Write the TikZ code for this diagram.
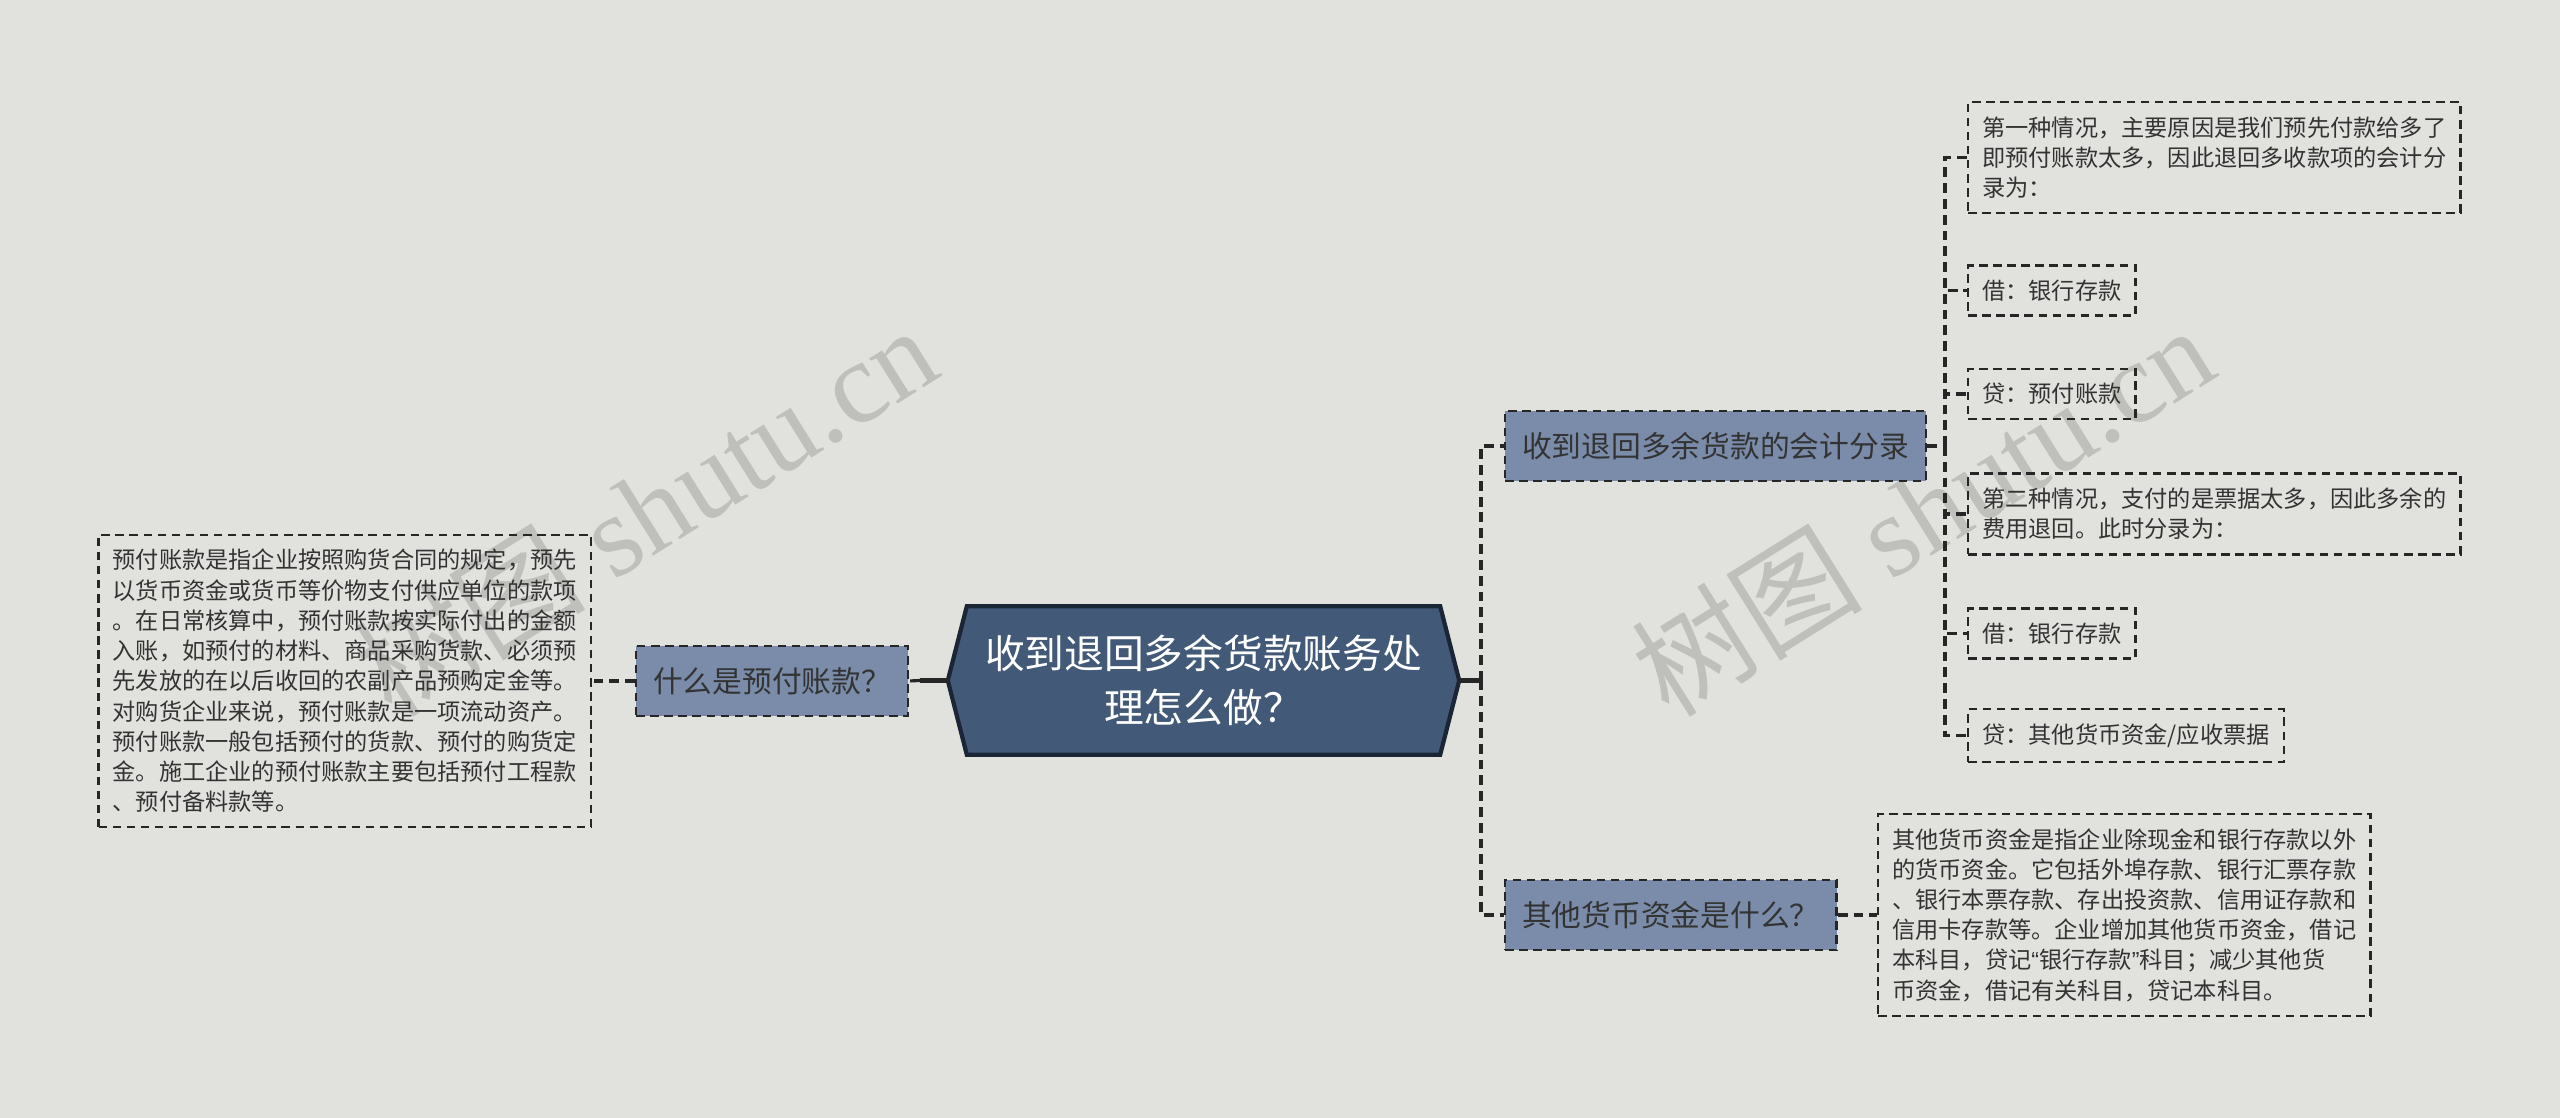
\documentclass[tikz,border=0pt]{standalone}
\usepackage{fontspec}
\setmainfont{Noto Sans CJK SC}
\newfontfamily\cjk{Noto Sans CJK SC}
\newfontfamily\wmfont{Liberation Serif}
\newfontfamily\latin{Liberation Sans}
\usetikzlibrary{backgrounds}
\definecolor{bgcol}{HTML}{E1E2DE}
\definecolor{rootfill}{HTML}{435978}
\definecolor{rootline}{HTML}{1A2535}
\definecolor{subfill}{HTML}{7A8CAA}
\definecolor{inkcol}{HTML}{333333}
\definecolor{markcol}{HTML}{BFC0BC}

\begin{document}
\begin{tikzpicture}[xscale = 1, yscale = 1,
	link/.style = {draw = black!85, line width = 0.9pt, dash pattern = on 2.8pt off 1.7pt},
	rootlink/.style = {draw = black!85, line width = 1.2pt},
	rootbox/.style = {text = white, font = \fontsize{11.3}{15.3}\selectfont, align = center, minimum width = 4.72cm, minimum height = 1.47cm, inner sep = 0pt},
	subbox/.style = {fill = subfill, draw = black!85, line width = 0.7pt, dash pattern = on 2.4pt off 1.6pt, text = inkcol, font = \fontsize{8.46}{10}\selectfont, minimum height = 0.7cm, inner xsep = 1.7mm, anchor = west},
	leafbox/.style = {draw = black!85, line width = 0.7pt, dash pattern = on 2.4pt off 1.6pt, text = inkcol, font = \fontsize{6.6}{8.6}\selectfont, align = left, inner xsep = 4pt, inner ysep = 4.1pt},
	wmark/.style = {text = markcol, font = \wmfont\fontsize{33}{33}\selectfont, rotate = 32}
]
	\useasboundingbox (0,0) rectangle (25.6,11.18);
	
	\node[rootbox] (root) at (12.035,4.375) {收到退回多余货款账务处\\理怎么做？};
	
	% left side
	\node[subbox] (what) at (6.35,4.37) {什么是预付账款？};
	\node[leafbox, anchor = east] (whatinfo) at (5.92,4.37) {预付账款是指企业按照购货合同的规定，预先\\以货币资金或货币等价物支付供应单位的款项\\。在日常核算中，预付账款按实际付出的金额\\入账，如预付的材料、商品采购货款、必须预\\先发放的在以后收回的农副产品预购定金等。\\对购货企业来说，预付账款是一项流动资产。\\预付账款一般包括预付的货款、预付的购货定\\金。施工企业的预付账款主要包括预付工程款\\、预付备料款等。};
	
	% right side
	\node[subbox] (entry) at (15.04,6.72) {收到退回多余货款的会计分录};
	\node[subbox] (other) at (15.04,2.03) {其他货币资金是什么？};
	
	\begin{scope}[shift = {(19.67,0)}]
		\node[leafbox, anchor = west] (e1) at (0,9.605) {第一种情况，主要原因是我们预先付款给多了\\即预付账款太多，因此退回多收款项的会计分\\录为：};
		\node[leafbox, anchor = west] (e2) at (0,8.275) {借：银行存款};
		\node[leafbox, anchor = west] (e3) at (0,7.24) {贷：预付账款};
		\node[leafbox, anchor = west] (e4) at (0,6.04) {第二种情况，支付的是票据太多，因此多余的\\费用退回。此时分录为：};
		\node[leafbox, anchor = west] (e5) at (0,4.845) {借：银行存款};
		\node[leafbox, anchor = west] (e6) at (0,3.825) {贷：其他货币资金/应收票据};
	\end{scope}
	
	\node[leafbox, anchor = west] (otherinfo) at (18.77,2.03) {其他货币资金是指企业除现金和银行存款以外\\的货币资金。它包括外埠存款、银行汇票存款\\、银行本票存款、存出投资款、信用证存款和\\信用卡存款等。企业增加其他货币资金，借记\\本科目，贷记{\latin “}银行存款{\latin ”}科目；减少其他货\\币资金，借记有关科目，贷记本科目。};
	
	\begin{scope}[on background layer]
		\fill[bgcol] (0,0) rectangle (25.6,11.18);
		\node[wmark] (wm1) at (6.45,6.08) {{\cjk 树图} shutu.cn};
		\node[wmark] (wm2) at (19.22,6.08) {{\cjk 树图} shutu.cn};
		\filldraw[fill = rootfill, draw = rootline, line width = 1.2pt] (root.north west) -- (root.north east) -- ([xshift = 1.9mm]root.east) -- (root.south east) -- (root.south west) -- ([xshift = -1.9mm]root.west) -- cycle;
	\end{scope}
	
	% connectors
	\coordinate (lj) at (9.2,4.375);
	\draw[rootlink] ([xshift = -1.9mm]root.west) -- (lj);
	\draw[link] (lj) -- (what.east);
	\draw[link] (what.west) -- (whatinfo.east);
	
	\coordinate (rj) at (14.81,4.375);
	\draw[rootlink] ([xshift = 1.9mm]root.east) -- (rj);
	\draw[link] (rj) |- (entry.west);
	\draw[link] (rj) |- (other.west);
	
	\coordinate (ej) at (19.45,6.72);
	\draw[link] (entry.east) -- (ej);
	\foreach \n in {e1,e2,e3,e4,e5,e6}
		\draw[link] (ej) |- (\n.west);
	
	\draw[link] (other.east) -- (otherinfo.west);
	
\end{tikzpicture}
\end{document}
